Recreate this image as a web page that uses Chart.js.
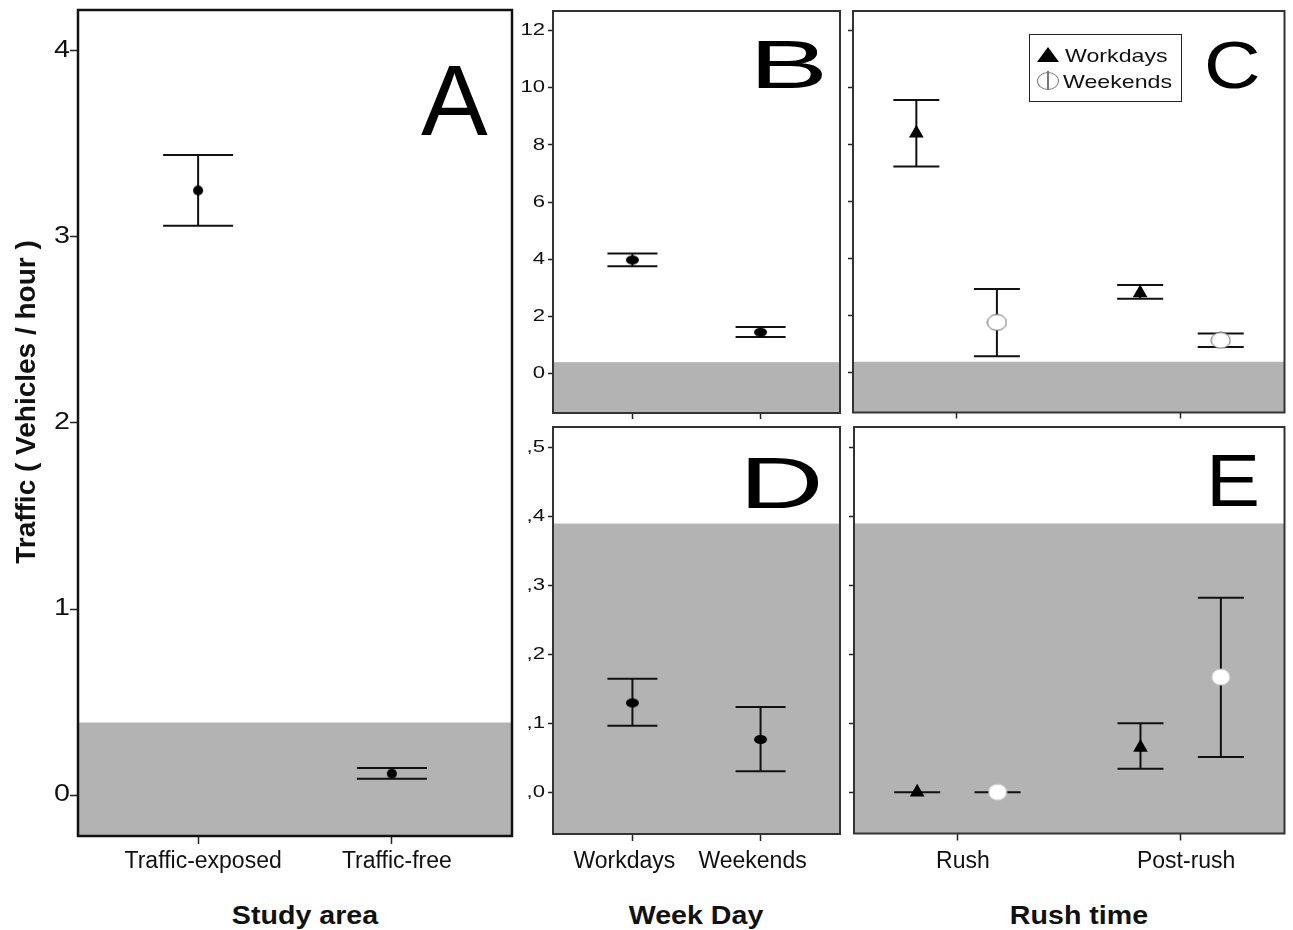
<!DOCTYPE html>
<html lang="en">
<head>
<meta charset="UTF-8">
<title>Traffic (Vehicles / hour)</title>
<script src="https://cdn.jsdelivr.net/npm/chart.js"></script>
<style>
    body {
        margin: 0;
        background: #fff;
        font-family: "Liberation Sans", Arial, sans-serif;
    }

    #fig {
        position: relative;
        width: 1293px;
        height: 930px;
        overflow: hidden;
    }

    canvas {
        position: absolute;
    }

    .letter {
        position: absolute;
        line-height: 1;
        color: #000;
        transform-origin: left top;
        white-space: nowrap;
    }

    .axis-title {
        position: absolute;
        width: 400px;
        text-align: center;
        font-weight: bold;
        font-size: 26px;
        line-height: 1;
        color: #111;
        transform: scaleX(1.1);
        white-space: nowrap;
    }

    #ytitle {
        position: absolute;
        left: -174px;
        top: 388px;
        width: 400px;
        text-align: center;
        font-weight: bold;
        font-size: 28px;
        line-height: 1;
        color: #111;
        transform: rotate(-90deg);
        white-space: nowrap;
    }

    .legend-box {
        position: absolute;
        left: 1029px;
        top: 34px;
        width: 153px;
        height: 68px;
        box-sizing: border-box;
        border: 1.5px solid #222;
    }

    .legend-text {
        position: absolute;
        font-size: 19px;
        line-height: 1;
        color: #111;
        transform: scaleX(1.22);
        transform-origin: left top;
        white-space: nowrap;
    }

    .sym-tri {
        position: absolute;
        left: 1037px;
        top: 47px;
        width: 22px;
        height: 15px;
        background: #000;
        clip-path: polygon(50% 0, 100% 100%, 0 100%);
    }

    .sym-circle {
        position: absolute;
        left: 1037px;
        top: 72px;
        width: 22px;
        height: 18px;
        box-sizing: border-box;
        border: 1.5px solid #777;
        border-radius: 50%;
    }

    .sym-circle::after {
        content: "";
        position: absolute;
        left: 8.5px;
        top: -2px;
        width: 2px;
        height: 19px;
        background: #777;
    }
</style>
</head>
<body>
<div id="fig">
    <canvas id="chartA" width="520" height="880" style="left:0;top:0"></canvas>
    <canvas id="chartB" width="332" height="421" style="left:513px;top:0"></canvas>
    <canvas id="chartC" width="450" height="421" style="left:843px;top:0"></canvas>
    <canvas id="chartD" width="332" height="461" style="left:513px;top:417px"></canvas>
    <canvas id="chartE" width="450" height="461" style="left:843px;top:417px"></canvas>

    <div class="letter" style="left:421px;top:50px;font-size:100px">A</div>
    <div class="letter" style="left:749px;top:30px;font-size:69px;transform:scaleX(1.72)">B</div>
    <div class="letter" style="left:1204px;top:31px;font-size:67px;transform:scaleX(1.17)">C</div>
    <div class="letter" style="left:739px;top:447px;font-size:72px;transform:scaleX(1.63)">D</div>
    <div class="letter" style="left:1206px;top:443px;font-size:75px;transform:scaleX(1.08)">E</div>

    <div class="legend-box"></div>
    <div class="sym-tri"></div>
    <div class="sym-circle"></div>
    <div class="legend-text" style="left:1065px;top:46px">Workdays</div>
    <div class="legend-text" style="left:1063px;top:72px">Weekends</div>

    <div id="ytitle">Traffic ( Vehicles / hour )</div>
    <div class="axis-title" style="left:105px;top:902px">Study area</div>
    <div class="axis-title" style="left:496px;top:902px">Week Day</div>
    <div class="axis-title" style="left:879px;top:902px">Rush time</div>
</div>

<script>
    // A: study area
    const areaCats = ['Traffic-exposed', 'Traffic-free'];
    const areaMean = [3.25, 0.115];
    const areaLow = [3.06, 0.088];
    const areaHigh = [3.44, 0.145];

    // B: week day (all traffic)
    const dayCats = ['Workdays', 'Weekends'];
    const dayMean = [3.97, 1.44];
    const dayLow = [3.75, 1.27];
    const dayHigh = [4.20, 1.62];

    // C: rush time (all traffic)
    const rushCats = ['Rush', 'Post-rush'];
    const rushWorkMean = [8.4, 2.80];
    const rushWorkLow = [7.24, 2.60];
    const rushWorkHigh = [9.57, 3.08];
    const rushWkndMean = [1.77, 1.14];
    const rushWkndLow = [0.58, 0.91];
    const rushWkndHigh = [2.94, 1.38];

    // D: week day (traffic-free area)
    const freeDayMean = [0.130, 0.077];
    const freeDayLow = [0.097, 0.031];
    const freeDayHigh = [0.165, 0.124];

    // E: rush time (traffic-free area)
    const freeWorkMean = [0, 0.065];
    const freeWorkLow = [0, 0.034];
    const freeWorkHigh = [0, 0.100];
    const freeWkndMean = [0, 0.167];
    const freeWkndLow = [0, 0.051];
    const freeWkndHigh = [0, 0.282];

    const areaTicks = [0, 1, 2, 3, 4];
    const bigTicks = [0, 2, 4, 6, 8, 10, 12];
    const smallTicks = [0, 0.1, 0.2, 0.3, 0.4, 0.5];
    const smallTickLabels = [',0', ',1', ',2', ',3', ',4', ',5'];
    const shadeLimit = 0.39;

    const dodge = 0.18;

    Chart.defaults.font.family = '"Liberation Sans", Arial, sans-serif';

    function ellipseMark(w, h, fill, stroke) {
        const c = document.createElement('canvas');
        c.width = Math.ceil(w) + 2;
        c.height = Math.ceil(h) + 2;
        const g = c.getContext('2d');
        g.beginPath();
        g.ellipse(c.width / 2, c.height / 2, w / 2, h / 2, 0, 0, Math.PI * 2);
        g.fillStyle = fill;
        g.fill();
        if (stroke) {
            g.strokeStyle = stroke;
            g.lineWidth = 1;
            g.stroke();
        }
        return c;
    }

    function shade(color) {
        return {
            id: 'shade',
            beforeDatasetsDraw(chart) {
                const {ctx, chartArea: a, scales: {y}} = chart;
                const top = Math.max(a.top, y.getPixelForValue(shadeLimit));
                ctx.save();
                ctx.fillStyle = color;
                ctx.fillRect(a.left, top, a.right - a.left, a.bottom - top);
                ctx.restore();
            }
        };
    }

    function errorBars(cap, width) {
        return {
            id: 'errorBars',
            beforeDatasetsDraw(chart) {
                const {ctx, scales: {x, y}} = chart;
                ctx.save();
                ctx.strokeStyle = '#111';
                ctx.lineWidth = width;
                chart.data.datasets.forEach(ds => {
                    ds.data.forEach((p, i) => {
                        const px = x.getPixelForValue(p.x);
                        const lo = y.getPixelForValue(ds.low[i]);
                        const hi = y.getPixelForValue(ds.high[i]);
                        ctx.beginPath();
                        ctx.moveTo(px, lo);
                        ctx.lineTo(px, hi);
                        ctx.moveTo(px - cap, lo);
                        ctx.lineTo(px + cap, lo);
                        ctx.moveTo(px - cap, hi);
                        ctx.lineTo(px + cap, hi);
                        ctx.stroke();
                    });
                });
                ctx.restore();
            }
        };
    }

    function frame(width, color) {
        return {
            id: 'frame',
            afterDraw(chart) {
                const {ctx, chartArea: a} = chart;
                ctx.save();
                ctx.strokeStyle = color;
                ctx.lineWidth = width;
                ctx.strokeRect(a.left, a.top, a.right - a.left, a.bottom - a.top);
                ctx.restore();
            }
        };
    }

    function series(means, low, high, shift, style, radius) {
        return {
            data: means.map((m, i) => ({x: i + 1 + shift, y: m})),
            low: low,
            high: high,
            pointStyle: style,
            pointRadius: radius,
            pointHoverRadius: radius,
            pointBackgroundColor: '#000',
            pointBorderWidth: 0
        };
    }

    function makeChart(id, o) {
        const yTickLength = o.yTickLength;
        const yPad = o.yPad;
        return new Chart(document.getElementById(id), {
            type: 'scatter',
            data: {datasets: o.datasets},
            options: {
                responsive: false,
                animation: false,
                events: [],
                layout: {padding: o.padding},
                plugins: {legend: {display: false}, tooltip: {enabled: false}},
                scales: {
                    x: {
                        type: 'linear',
                        min: o.xMin,
                        max: o.xMax,
                        afterBuildTicks: s => {
                            s.ticks = o.cats.map((c, i) => ({value: i + 1}));
                        },
                        afterFit: s => {
                            s.height = o.xHeight;
                            s.paddingLeft = 0;
                            s.paddingRight = 0;
                        },
                        ticks: {
                            display: o.showX,
                            callback: (v, i) => o.cats[i],
                            font: {size: 23},
                            color: '#111',
                            padding: o.xPad,
                            labelOffset: o.xOffset,
                            maxRotation: 0,
                            autoSkip: false
                        },
                        grid: {
                            drawOnChartArea: false,
                            tickLength: o.xTickLength,
                            tickColor: '#222',
                            tickWidth: 1.5
                        },
                        border: {display: false}
                    },
                    y: {
                        type: 'linear',
                        min: o.yMin,
                        max: o.yMax,
                        afterBuildTicks: s => {
                            s.ticks = o.yTicks.map(v => ({value: v}));
                        },
                        afterFit: s => {
                            s.width = o.yWidth;
                            s.paddingTop = 0;
                            s.paddingBottom = 0;
                            if (o.stretch && !s._stretched) {
                                const draw = s.drawLabels.bind(s);
                                s.drawLabels = function (area) {
                                    const ctx = this.ctx;
                                    const x0 = this.right - yTickLength - yPad;
                                    ctx.save();
                                    ctx.translate(x0, 0);
                                    ctx.scale(o.stretch, 1);
                                    ctx.translate(-x0, 0);
                                    draw(area);
                                    ctx.restore();
                                };
                                s._stretched = true;
                            }
                        },
                        ticks: {
                            display: o.showY,
                            callback: (v, i) => o.yLabels ? o.yLabels[i] : String(v),
                            font: {size: o.yFont},
                            color: '#111',
                            padding: yPad
                        },
                        grid: {
                            drawOnChartArea: false,
                            tickLength: yTickLength,
                            tickColor: '#222',
                            tickWidth: 1.5
                        },
                        border: {display: false}
                    }
                }
            },
            plugins: [shade('#b3b3b3'), errorBars(o.cap, 2), frame(o.frameWidth, o.frameColor)]
        });
    }

    const dotA = ellipseMark(10, 10, '#000');
    const dotB = ellipseMark(13, 9, '#000');
    const ringC = ellipseMark(19, 16, '#fff', '#666');
    const ringE = ellipseMark(18, 16, '#fff', '#ccc');

    makeChart('chartA', {
        padding: {top: 10, right: 8, left: 0, bottom: 0},
        cats: areaCats, xMin: 0.38, xMax: 2.62, xHeight: 44, showX: true, xPad: 4, xOffset: 5, xTickLength: 8,
        yMin: -0.22, yMax: 4.22, yTicks: areaTicks, yWidth: 78, showY: true, yFont: 23, yPad: 0, yTickLength: 8,
        stretch: 1.25, cap: 35, frameWidth: 2.5, frameColor: '#111',
        datasets: [series(areaMean, areaLow, areaHigh, 0, dotA, 5)]
    });

    makeChart('chartB', {
        padding: {top: 11, right: 4, left: 0, bottom: 0},
        cats: dayCats, xMin: 0.38, xMax: 2.62, xHeight: 8, showX: false, xPad: 0, xOffset: 0, xTickLength: 6,
        yMin: -1.39, yMax: 12.69, yTicks: bigTicks, yWidth: 40, showY: true, yFont: 17, yPad: 3, yTickLength: 5,
        stretch: 1.3, cap: 25, frameWidth: 2, frameColor: '#333',
        datasets: [series(dayMean, dayLow, dayHigh, 0, dotB, 5)]
    });

    makeChart('chartC', {
        padding: {top: 11, right: 4.5, left: 0, bottom: 0},
        cats: rushCats, xMin: 0.537, xMax: 2.465, xHeight: 8, showX: false, xPad: 0, xOffset: 0, xTickLength: 6,
        yMin: -1.39, yMax: 12.69, yTicks: bigTicks, yWidth: 10, showY: false, yFont: 17, yPad: 0, yTickLength: 5,
        stretch: 0, cap: 23, frameWidth: 2, frameColor: '#333',
        datasets: [
            series(rushWorkMean, rushWorkLow, rushWorkHigh, -dodge, 'triangle', 8.5),
            series(rushWkndMean, rushWkndLow, rushWkndHigh, dodge, ringC, 8)
        ]
    });

    makeChart('chartD', {
        padding: {top: 10, right: 4, left: 0, bottom: 0},
        cats: dayCats, xMin: 0.38, xMax: 2.62, xHeight: 44, showX: true, xPad: 7, xOffset: -8, xTickLength: 7,
        yMin: -0.06, yMax: 0.53, yTicks: smallTicks, yLabels: smallTickLabels, yWidth: 40, showY: true, yFont: 17, yPad: 3, yTickLength: 5,
        stretch: 1.3, cap: 25, frameWidth: 2, frameColor: '#333',
        datasets: [series(freeDayMean, freeDayLow, freeDayHigh, 0, dotB, 5)]
    });

    makeChart('chartE', {
        padding: {top: 10, right: 4.5, left: 0, bottom: 0},
        cats: rushCats, xMin: 0.537, xMax: 2.465, xHeight: 44.5, showX: true, xPad: 7, xOffset: 5.5, xTickLength: 7,
        yMin: -0.06, yMax: 0.53, yTicks: smallTicks, yWidth: 11, showY: false, yFont: 17, yPad: 0, yTickLength: 5,
        stretch: 0, cap: 23, frameWidth: 2, frameColor: '#333',
        datasets: [
            series(freeWorkMean, freeWorkLow, freeWorkHigh, -dodge, 'triangle', 8.5),
            series(freeWkndMean, freeWkndLow, freeWkndHigh, dodge, ringE, 8)
        ]
    });
</script>
</body>
</html>
